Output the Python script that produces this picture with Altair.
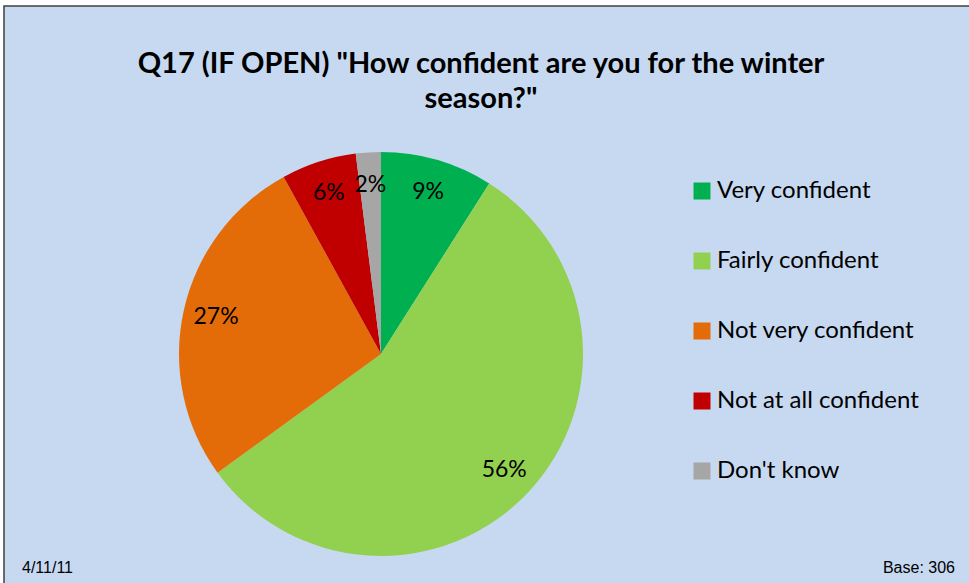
import altair as alt
import pandas as pd

categories = ["Very confident", "Fairly confident", "Not very confident", "Not at all confident", "Don't know"]
values = [9, 56, 27, 6, 2]
colors = ["#00B050", "#92D050", "#E36C09", "#C00000", "#A6A6A6"]
title_lines = ["Q17 (IF OPEN) \"How confident are you for the winter", "season?\""]
footer_left = ["4/11/11"]
footer_right = ["Base: 306"]

df = pd.DataFrame({
    "category": categories,
    "value": values,
    "order": list(range(len(categories))),
    "label": [f"{v}%" for v in values],
})

W, H = 969, 583
CX, CY = 381, 354
R = 202
BG = "#C6D9F1"
FONT = "Lato"

frame = alt.Chart(pd.DataFrame({"a": [0]})).mark_rect(
    fill=BG, stroke="#404040", strokeWidth=1.5
).encode(
    x=alt.value(4), x2=alt.value(W + 10), y=alt.value(6), y2=alt.value(H + 10)
)

color_scale = alt.Scale(domain=categories, range=colors)

arcs = alt.Chart(df).mark_arc(outerRadius=R, stroke=None).encode(
    theta=alt.Theta("value:Q", stack=True),
    order=alt.Order("order:Q"),
    color=alt.Color(
        "category:N",
        scale=color_scale,
        sort=categories,
        legend=alt.Legend(
            title=None,
            orient="none",
            legendX=690,
            legendY=179,
            symbolType="square",
            symbolSize=289,
            symbolStrokeWidth=0,
            labelFont=FONT,
            labelFontSize=24,
            labelColor="#000000",
            labelOffset=3,
            rowPadding=46,
            labelLimit=400,
        ),
    ),
    x=alt.value(CX),
    y=alt.value(CY),
)

labels = alt.Chart(df).mark_text(
    radius=169, font=FONT, fontSize=23, color="#000000", align="center", baseline="middle"
).encode(
    theta=alt.Theta("value:Q", stack=True),
    order=alt.Order("order:Q"),
    text="label:N",
    x=alt.value(CX),
    y=alt.value(CY),
)

title1 = alt.Chart(pd.DataFrame({"t": [title_lines[0]]})).mark_text(
    font=FONT, fontSize=29, fontWeight="bold", color="#000000", align="center", baseline="middle"
).encode(text="t:N", x=alt.value(481), y=alt.value(64))

title2 = alt.Chart(pd.DataFrame({"t": [title_lines[1]]})).mark_text(
    font=FONT, fontSize=29, fontWeight="bold", color="#000000", align="center", baseline="middle"
).encode(text="t:N", x=alt.value(481), y=alt.value(99))

foot_l = alt.Chart(pd.DataFrame({"t": footer_left})).mark_text(
    font="Liberation Sans", fontSize=16, color="#000000", align="left", baseline="middle"
).encode(text="t:N", x=alt.value(22), y=alt.value(568))

foot_r = alt.Chart(pd.DataFrame({"t": footer_right})).mark_text(
    font="Liberation Sans", fontSize=16, color="#000000", align="right", baseline="middle"
).encode(text="t:N", x=alt.value(955), y=alt.value(568))

chart = alt.layer(frame, arcs, labels, title1, title2, foot_l, foot_r).properties(
    width=W, height=H, padding=0, autosize=alt.AutoSizeParams(type="none"), background="#FFFFFF"
).configure_view(stroke=None)

chart.save("out.html", embed_options={"renderer": "svg", "actions": False})
